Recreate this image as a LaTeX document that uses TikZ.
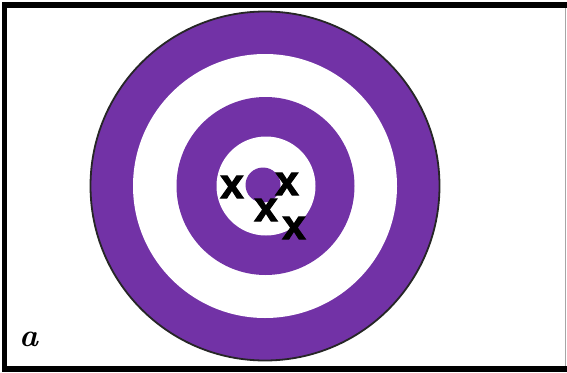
\documentclass[tikz,border=0pt]{standalone}
\usepackage{fontspec}
\newfontfamily\xfont[FakeBold=2.5]{Liberation Sans}
\definecolor{tpurple}{RGB}{114,50,166}
\begin{document}
\begin{tikzpicture}[x=1pt,y=-1pt,
  ring/.style={fill=tpurple},
  hole/.style={fill=white},
  hitmark/.style={font=\xfont\bfseries\fontsize{42}{42}\selectfont, inner sep=0pt},
]
\useasboundingbox (0,0) rectangle (567,372);
\fill[white] (0,0) rectangle (567,372);
% frame
\fill[black] (2,2) rectangle (567,8);
\fill[black] (2,2) rectangle (7,372);
\fill[black] (2,366) rectangle (567,372);
\draw[gray!70, line width=1.5pt] (565.5,8) -- (565.5,366);
% target
\node[circle, ring, draw=black!85, line width=1.8pt, minimum size=349pt, inner sep=0pt] (r1) at (265,186) {};
\node[circle, hole, minimum size=264pt, inner sep=0pt] (r2) at (265,186) {};
\node[circle, ring, minimum size=178pt, inner sep=0pt] (r3) at (265.5,186) {};
\node[circle, hole, minimum size=99pt, inner sep=0pt] (r4) at (266,186) {};
\node[circle, ring, minimum size=35pt, inner sep=0pt] (r5) at (263,185) {};
% hits
\node[hitmark] (h1) at (232,187) {x};
\node[hitmark] (h2) at (287,184) {x};
\node[hitmark] (h3) at (266,210) {x};
\node[hitmark] (h4) at (294,228) {x};
% label
\node[font=\fontsize{32}{32}\selectfont\bfseries\itshape, inner sep=0pt] (lbl) at (28.5,339) {a};
\end{tikzpicture}
\end{document}
